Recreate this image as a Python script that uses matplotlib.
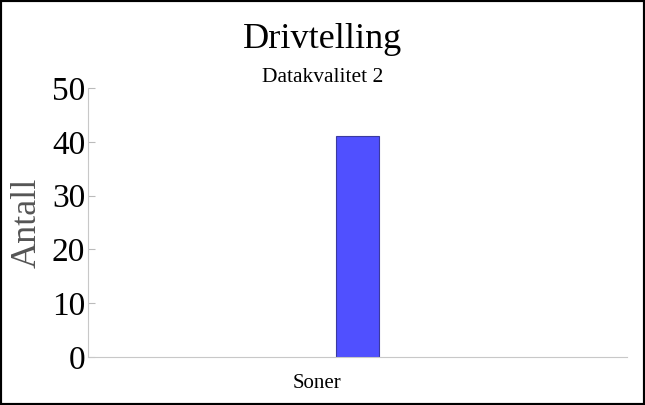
import matplotlib.pyplot as plt
from matplotlib.patches import Rectangle
from matplotlib.transforms import ScaledTranslation

categories = ['Soner']
counts = [41]
y_ticks = [0, 10, 20, 30, 40, 50]

plt.rcParams['font.family'] = ['Liberation Serif', 'DejaVu Serif']

fig = plt.figure(figsize=(6.45, 4.05), dpi=100)
ax = fig.add_axes([88 / 645, 1 - 357 / 405, (627 - 88) / 645, (357 - 88) / 405])

ax.bar(range(len(categories)), counts, width=0.08, color='#5050ff',
       edgecolor='#3a3aa0', linewidth=0.8)
ax.set_xlim(-0.5, 0.5)
ax.set_ylim(0, 50)
ax.set_yticks(y_ticks)
ax.set_xticks(range(len(categories)))
ax.set_xticklabels(categories, fontsize=15)
ax.tick_params(axis='y', direction='in', length=5, color='#bbbbbb',
               labelsize=24, pad=2)
ax.tick_params(axis='x', length=0, pad=12)

# category label sits left of the bar in the original
shift = ScaledTranslation(-40 / 100, 0, fig.dpi_scale_trans)
for lbl in ax.get_xticklabels():
    lbl.set_transform(lbl.get_transform() + shift)

for side in ['top', 'right']:
    ax.spines[side].set_visible(False)
for side in ['left', 'bottom']:
    ax.spines[side].set_color('#c8c8c8')

ax.set_ylabel('Antall', fontsize=26, color='#555555', labelpad=6)

fig.text(0.5, 1 - 40 / 405, 'Drivtelling', ha='center', va='center', fontsize=26)
fig.text(0.5, 1 - 77 / 405, 'Datakvalitet 2', ha='center', va='center', fontsize=15.5)

fig.patches.append(Rectangle((0, 0), 1, 1, transform=fig.transFigure,
                             fill=False, edgecolor='black', linewidth=3))

fig.savefig('out.png', dpi=100)
